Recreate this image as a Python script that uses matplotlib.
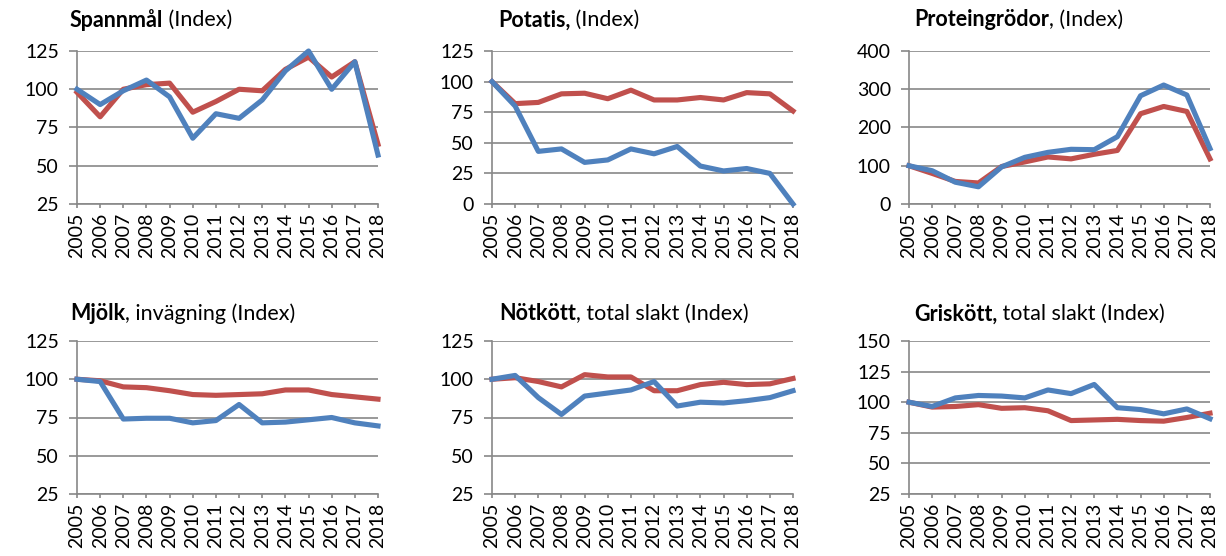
import numpy as np
import matplotlib
matplotlib.use("Agg")
import matplotlib.pyplot as plt

plt.rcParams['font.family'] = ['Lato', 'DejaVu Sans']

years = list(range(2005, 2019))

# Spannmål
spann_red = [98, 82, 100, 103, 104, 85, 92, 100, 99, 113, 121, 108, 118, 64]
spann_blue = [100, 90, 99, 106, 95, 68, 84, 81, 93, 112, 125, 100, 118, 57]
# Potatis
pot_red = [100, 82, 83, 90, 90.5, 86, 93, 85, 85, 87, 85, 91, 90, 76]
pot_blue = [100, 80, 43, 45, 34, 36, 45, 41, 47, 31, 27, 29, 25, 0]
# Proteingrödor
prot_red = [100, 80, 59, 55, 98, 110, 123, 118, 130, 140, 236, 255, 242, 118]
prot_blue = [100, 87, 57, 45, 97, 122, 135, 143, 142, 176, 283, 311, 285, 145]
# Mjölk
mjolk_red = [100, 99, 95, 94.5, 92.5, 90, 89.5, 90, 90.5, 93, 93, 90, 88.5, 87]
mjolk_blue = [100, 98.5, 74, 74.5, 74.5, 71.5, 73, 83.5, 71.5, 72, 73.5, 75, 71.5, 69.5]
# Nötkött
not_red = [100, 101, 98.5, 95, 103, 101.5, 101.5, 92.5, 92.5, 96.5, 98, 96.5, 97, 100.5]
not_blue = [100, 102.5, 88, 77, 89, 91, 93, 98.5, 82.5, 85, 84.5, 86, 88, 92.5]
# Griskött
gris_red = [100, 96, 96.5, 98, 95, 95.5, 93, 85, 85.5, 86, 85, 84.5, 87.5, 91]
gris_blue = [100, 96.5, 103.5, 105.5, 105, 103.5, 110, 107, 114.5, 95.5, 94, 90.5, 94.5, 86.5]

panels = [
    ("Spannmål", " (Index)", spann_red, spann_blue, [25, 50, 75, 100, 125]),
    ("Potatis,", " (Index)", pot_red, pot_blue, [0, 25, 50, 75, 100, 125]),
    ("Proteingrödor", ", (Index)", prot_red, prot_blue, [0, 100, 200, 300, 400]),
    ("Mjölk", ", invägning (Index)", mjolk_red, mjolk_blue, [25, 50, 75, 100, 125]),
    ("Nötkött", ", total slakt (Index)", not_red, not_blue, [25, 50, 75, 100, 125]),
    ("Griskött,", " total slakt (Index)", gris_red, gris_blue, [25, 50, 75, 100, 125, 150]),
]

RED = '#C0504D'
BLUE = '#4F81BD'
GRID = '#888888'

W, H = 1226, 556
fig = plt.figure(figsize=(W / 100, H / 100), dpi=100)

# pixel boxes: left, top (plot area is 301 x 153 px)
lefts = [77, 492, 909]
tops = [51, 341]
title_x = [[70, 498, 914], [70, 499, 914]]
title_y = [20, 314]

for i, (bold, rest, red, blue, yt) in enumerate(panels):
    r, c = divmod(i, 3)
    l, t = lefts[c], tops[r]
    ax = fig.add_axes([l / W, 1 - (t + 153) / H, 301 / W, 153 / H])
    ax.plot(years, red, color=RED, lw=3.7, solid_joinstyle='round', clip_on=False, zorder=3)
    ax.plot(years, blue, color=BLUE, lw=3.7, solid_joinstyle='round', clip_on=False, zorder=4)
    ax.set_xlim(2005, 2018)
    ax.set_ylim(yt[0], yt[-1])
    ax.set_yticks(yt)
    ax.set_xticks(years)
    ax.set_xticklabels([str(y) for y in years], rotation=90)
    ax.yaxis.grid(True, color=GRID, lw=1.2)
    ax.set_axisbelow(True)
    for s in ['top', 'right']:
        ax.spines[s].set_visible(False)
    for s in ['left', 'bottom']:
        ax.spines[s].set_color(GRID)
        ax.spines[s].set_linewidth(1.2)
    ax.tick_params(axis='y', length=6, width=1.2, color=GRID, pad=7, labelsize=14)
    ax.tick_params(axis='x', length=3, width=1.2, color=GRID, pad=3.5, labelsize=14)

fig.canvas.draw()
renderer = fig.canvas.get_renderer()
for i, (bold, rest, red, blue, yt) in enumerate(panels):
    r, c = divmod(i, 3)
    x = title_x[r][c] / W
    y = 1 - title_y[r] / H
    t1 = fig.text(x, y, bold, fontsize=15.5, fontweight='bold', va='center', ha='left')
    bb = t1.get_window_extent(renderer)
    fig.text(bb.x1 / W, y, rest, fontsize=15.5, va='center', ha='left')

fig.savefig('out.png', dpi=100)
